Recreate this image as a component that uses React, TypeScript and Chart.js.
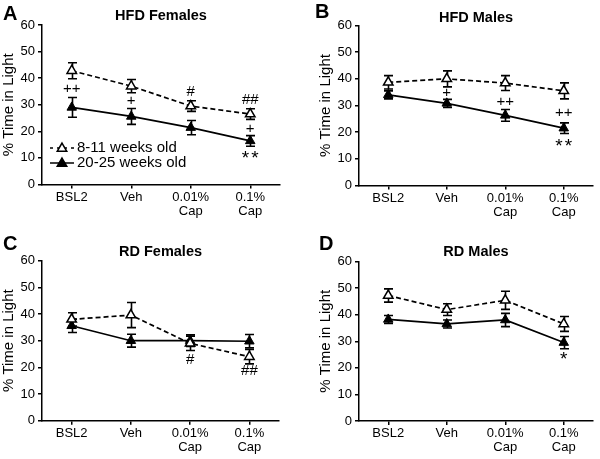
import React, { useEffect, useRef } from 'react';
import { Chart, registerables } from 'chart.js';
Chart.register(...registerables);

const FONT = '"Liberation Sans", Arial, Helvetica, sans-serif';

// ---------- data ----------
const categories = [['BSL2'], ['Veh'], ['0.01%', 'Cap'], ['0.1%', 'Cap']];
const seriesLabels = ['8-11 weeks old', '20-25 weeks old'];
const yAxisTitle = '% Time in Light';
const yMin = 0;
const yMax = 60;
const yStep = 10;

const hfdFemalesYoung = [42.8, 37, 29.5, 26.5];
const hfdFemalesYoungSem = [3, 2.5, 2, 2];
const hfdFemalesOld = [29, 25.6, 21.4, 16.4];
const hfdFemalesOldSem = [3.7, 3, 2.7, 2];
const hfdFemalesNotes = [
  { i: 0, y: 35.9, t: '++' },
  { i: 1, y: 31.4, t: '+' },
  { i: 2, y: 34.8, t: '#' },
  { i: 3, y: 32, t: '##' },
  { i: 3, y: 21, t: '+' },
  { i: 3, y: 11.5, t: '**' },
];

const hfdMalesYoung = [38.7, 40, 38.4, 35.5];
const hfdMalesYoungSem = [2.5, 3, 2.8, 3];
const hfdMalesOld = [34, 30.8, 26.3, 21.5];
const hfdMalesOldSem = [1.5, 1.5, 2.2, 2];
const hfdMalesNotes = [
  { i: 1, y: 34.6, t: '+' },
  { i: 2, y: 31.4, t: '++' },
  { i: 3, y: 27.1, t: '++' },
  { i: 3, y: 16.4, t: '**' },
];

const rdFemalesYoung = [38, 39.6, 29, 24];
const rdFemalesYoungSem = [2.5, 4.7, 2.7, 2.7];
const rdFemalesOld = [35.6, 30, 30, 29.8];
const rdFemalesOldSem = [2.5, 2.4, 2.2, 2.5];
const rdFemalesNotes = [
  { i: 2, y: 22.8, t: '#' },
  { i: 3, y: 18.7, t: '##' },
];

const rdMalesYoung = [47.2, 41.9, 45.4, 36.5];
const rdMalesYoungSem = [2.5, 2.2, 3.4, 2.8];
const rdMalesOld = [38.2, 36.5, 38, 29.5];
const rdMalesOldSem = [1.5, 1.5, 2.5, 2.3];
const rdMalesNotes = [{ i: 3, y: 24.6, t: '*' }];

// ---------- layout ----------
type Note = { i: number; y: number; t: string };
type PanelCfg = {
  letter: string;
  title: string;
  young: number[];
  youngSem: number[];
  old: number[];
  oldSem: number[];
  notes: Note[];
  legend: boolean;
  left: number;
  top: number;
  width: number;
  height: number;
  padLeft: number;
  padRight: number;
  padTop: number;
  xHeight: number;
  titleY: number;
  letterX: number;
  letterY: number;
};

const panels: PanelCfg[] = [
  {
    letter: 'A', title: 'HFD Females',
    young: hfdFemalesYoung, youngSem: hfdFemalesYoungSem, old: hfdFemalesOld, oldSem: hfdFemalesOldSem,
    notes: hfdFemalesNotes, legend: true,
    left: 0, top: 0, width: 300, height: 230,
    padLeft: 0, padRight: 20, padTop: 25, xHeight: 45.5, titleY: 15.5, letterX: 3, letterY: 14,
  },
  {
    letter: 'B', title: 'HFD Males',
    young: hfdMalesYoung, youngSem: hfdMalesYoungSem, old: hfdMalesOld, oldSem: hfdMalesOldSem,
    notes: hfdMalesNotes, legend: false,
    left: 300, top: 0, width: 300, height: 230,
    padLeft: 17, padRight: 2, padTop: 25.5, xHeight: 44.5, titleY: 17.5, letterX: 15, letterY: 12,
  },
  {
    letter: 'C', title: 'RD Females',
    young: rdFemalesYoung, youngSem: rdFemalesYoungSem, old: rdFemalesOld, oldSem: rdFemalesOldSem,
    notes: rdFemalesNotes, legend: false,
    left: 0, top: 230, width: 300, height: 229,
    padLeft: 0, padRight: 21, padTop: 30.7, xHeight: 38.3, titleY: 21.5, letterX: 3, letterY: 14,
  },
  {
    letter: 'D', title: 'RD Males',
    young: rdMalesYoung, youngSem: rdMalesYoungSem, old: rdMalesOld, oldSem: rdMalesOldSem,
    notes: rdMalesNotes, legend: false,
    left: 300, top: 230, width: 300, height: 229,
    padLeft: 17, padRight: 3, padTop: 31.5, xHeight: 38, titleY: 21.5, letterX: 19, letterY: 14,
  },
];

function triPath(ctx: CanvasRenderingContext2D, x: number, y: number, r: number) {
  const w = Math.sin(Math.PI / 3) * r;
  ctx.beginPath();
  ctx.moveTo(x, y - r);
  ctx.lineTo(x + w, y + r / 2);
  ctx.lineTo(x - w, y + r / 2);
  ctx.closePath();
}

function makeOverlay(cfg: PanelCfg) {
  return {
    id: 'overlay',
    beforeDatasetsDraw(chart: any) {
      const ctx: CanvasRenderingContext2D = chart.ctx;
      const xs = chart.scales.x;
      const ys = chart.scales.y;
      ctx.save();
      ctx.strokeStyle = '#000';
      ctx.lineWidth = 1.6;
      const sets: [number[], number[]][] = [
        [cfg.young, cfg.youngSem],
        [cfg.old, cfg.oldSem],
      ];
      sets.forEach(([m, s]) => {
        m.forEach((v, i) => {
          const px = Math.round(xs.getPixelForValue(i)) + 0.5;
          const t = ys.getPixelForValue(v + s[i]);
          const b = ys.getPixelForValue(v - s[i]);
          ctx.beginPath();
          ctx.moveTo(px, t);
          ctx.lineTo(px, b);
          ctx.moveTo(px - 4.5, t);
          ctx.lineTo(px + 4.5, t);
          ctx.moveTo(px - 4.5, b);
          ctx.lineTo(px + 4.5, b);
          ctx.stroke();
        });
      });
      ctx.restore();
    },
    afterDraw(chart: any) {
      const ctx: CanvasRenderingContext2D = chart.ctx;
      const xs = chart.scales.x;
      const ys = chart.scales.y;
      const area = chart.chartArea;
      ctx.save();
      ctx.fillStyle = '#000';
      // panel letter
      ctx.font = `bold 20px ${FONT}`;
      ctx.textAlign = 'left';
      ctx.textBaseline = 'middle';
      ctx.fillText(cfg.letter, cfg.letterX, cfg.letterY);
      // title
      ctx.font = `bold 14.5px ${FONT}`;
      ctx.textAlign = 'center';
      ctx.fillText(cfg.title, (area.left + area.right) / 2, cfg.titleY);
      // significance notes
      cfg.notes.forEach((n) => {
        const px = xs.getPixelForValue(n.i);
        const py = ys.getPixelForValue(n.y);
        if (n.t.includes('*')) {
          ctx.font = `19px ${FONT}`;
          const chars = n.t.split('');
          const gap = 9.5;
          const start = px - ((chars.length - 1) * gap) / 2;
          chars.forEach((c, k) => ctx.fillText(c, start + k * gap, py + 4.5));
        } else {
          ctx.font = `15px ${FONT}`;
          ctx.fillText(n.t, px, py);
        }
      });
      // legend
      if (cfg.legend) {
        const rows = [
          { y: 148, dash: [3, 4], fill: '#fff', text: seriesLabels[0] },
          { y: 163, dash: [], fill: '#000', text: seriesLabels[1] },
        ];
        rows.forEach((r) => {
          ctx.strokeStyle = '#000';
          ctx.lineWidth = 1.5;
          ctx.setLineDash(r.dash);
          ctx.beginPath();
          ctx.moveTo(50, r.y);
          ctx.lineTo(74, r.y);
          ctx.stroke();
          ctx.setLineDash([]);
          triPath(ctx, 62, r.y + 0.5, 5.5);
          ctx.fillStyle = r.fill;
          ctx.fill();
          ctx.stroke();
          ctx.fillStyle = '#000';
          ctx.font = `15px ${FONT}`;
          ctx.textAlign = 'left';
          ctx.textBaseline = 'middle';
          ctx.fillText(r.text, 77, r.y);
        });
      }
      ctx.restore();
    },
  };
}

function Panel({ cfg }: { cfg: PanelCfg }) {
  const ref = useRef<HTMLCanvasElement>(null);
  useEffect(() => {
    if (!ref.current) return;
    const tickFont = { family: FONT, size: 13, lineHeight: 1.05 };
    const axisGrid = {
      display: true,
      drawOnChartArea: false,
      drawTicks: true,
      tickLength: 4,
      color: '#000',
      lineWidth: 1.5,
    };
    const chart = new Chart(ref.current, {
      type: 'line',
      data: {
        labels: categories,
        datasets: [
          {
            label: seriesLabels[0],
            data: cfg.young,
            borderColor: '#000',
            borderWidth: 1.7,
            borderDash: [5, 3],
            pointStyle: 'triangle',
            pointRadius: 5.5,
            pointBackgroundColor: '#fff',
            pointBorderColor: '#000',
            pointBorderWidth: 1.5,
            fill: false,
            tension: 0,
          },
          {
            label: seriesLabels[1],
            data: cfg.old,
            borderColor: '#000',
            borderWidth: 1.7,
            pointStyle: 'triangle',
            pointRadius: 5.5,
            pointBackgroundColor: '#000',
            pointBorderColor: '#000',
            pointBorderWidth: 1,
            fill: false,
            tension: 0,
          },
        ],
      },
      options: {
        responsive: false,
        animation: false,
        devicePixelRatio: 1,
        layout: { padding: { left: cfg.padLeft, right: cfg.padRight, top: cfg.padTop, bottom: 0 } },
        plugins: { legend: { display: false }, tooltip: { enabled: false }, title: { display: false } },
        scales: {
          x: {
            type: 'category',
            offset: true,
            grid: { ...axisGrid, offset: false },
            border: { display: true, color: '#000', width: 1.5 },
            ticks: { color: '#000', font: tickFont, padding: 2, maxRotation: 0, autoSkip: false },
            afterFit: (s: any) => {
              s.height = cfg.xHeight;
            },
          },
          y: {
            min: yMin,
            max: yMax,
            grid: axisGrid,
            border: { display: true, color: '#000', width: 1.5 },
            ticks: { stepSize: yStep, color: '#000', font: { family: FONT, size: 13 }, padding: 3 },
            title: {
              display: true,
              text: yAxisTitle,
              color: '#000',
              font: { family: FONT, size: 15 },
              padding: 0,
            },
            afterFit: (s: any) => {
              s.width = 42;
            },
          },
        },
      } as any,
      plugins: [makeOverlay(cfg)],
    });
    return () => chart.destroy();
  }, [cfg]);
  return (
    <canvas
      ref={ref}
      width={cfg.width}
      height={cfg.height}
      style={{ position: 'absolute', left: cfg.left, top: cfg.top, width: cfg.width, height: cfg.height }}
    />
  );
}

export default function App() {
  return (
    <div style={{ position: 'fixed', left: 0, top: 0, width: 600, height: 459, background: '#fff', overflow: 'hidden' }}>
      {panels.map((p) => (
        <Panel key={p.letter} cfg={p} />
      ))}
    </div>
  );
}
